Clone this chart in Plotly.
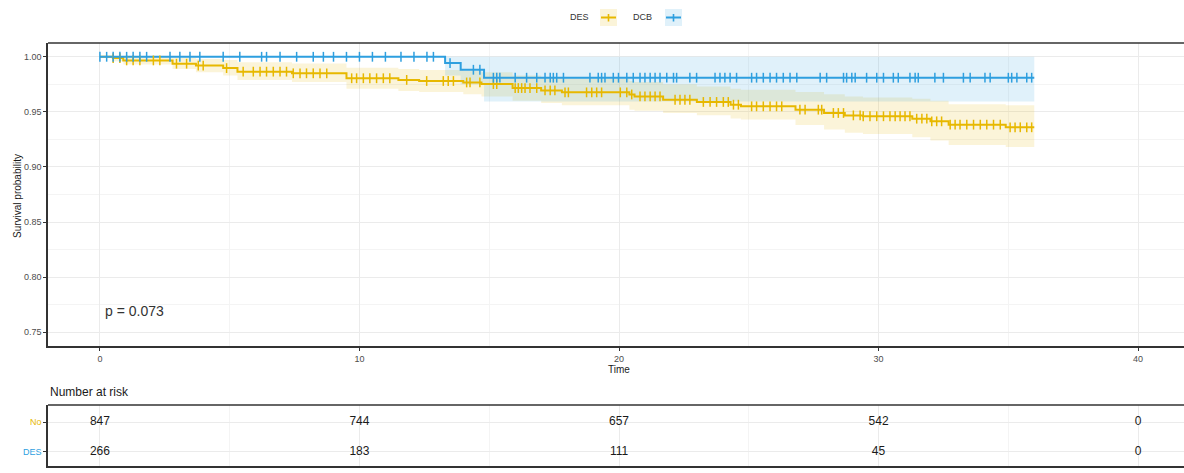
import numpy as np
import plotly.graph_objects as go

BLUE = "#2E9FDF"
YELLOW = "#E7B800"
FONT = "Liberation Sans, Arial, sans-serif"

# ---------------- data ----------------
des_time = [0, 0.5, 0.9, 2.8, 3.7, 4.75, 5.3, 7.4, 9.5, 11.5, 12.3, 14.0, 14.7, 15.9, 17.0,
            17.8, 20.4, 20.6, 21.7, 23.0, 24.3, 24.7, 26.8, 27.9, 28.7, 29.4, 31.3, 32.0, 32.7, 34.9]
des_surv = [1.0, 0.9988, 0.9967, 0.9937, 0.9920, 0.9897, 0.9865, 0.9850, 0.9805, 0.9790, 0.9780,
            0.9767, 0.9752, 0.9716, 0.9695, 0.9677, 0.9658, 0.9640, 0.9610, 0.9590, 0.9565, 0.9550,
            0.9520, 0.9490, 0.9468, 0.9460, 0.9438, 0.9414, 0.9384, 0.9360]
des_upper = [1.0, 1.0, 1.0, 0.999, 0.998, 0.997, 0.995, 0.994, 0.990, 0.989, 0.988, 0.987, 0.986,
             0.983, 0.981, 0.980, 0.978, 0.977, 0.975, 0.973, 0.971, 0.970, 0.968, 0.966, 0.964,
             0.963, 0.962, 0.960, 0.957, 0.956]
des_lower = [1.0, 0.996, 0.993, 0.989, 0.986, 0.983, 0.979, 0.977, 0.971, 0.969, 0.968, 0.966, 0.964,
             0.960, 0.958, 0.956, 0.952, 0.951, 0.949, 0.947, 0.944, 0.943, 0.938, 0.934, 0.931,
             0.930, 0.927, 0.924, 0.920, 0.918]
des_end = 36.0

dcb_time = [0, 13.3, 13.9, 14.8]
dcb_surv = [1.0, 0.9943, 0.9882, 0.9810]
dcb_upper = [1.0, 1.0, 1.0, 1.0]
dcb_lower = [1.0, 0.983, 0.975, 0.9595]
dcb_end = 36.0

des_censor = [0.51, 0.77, 1.03, 1.28, 1.54, 2.06, 2.31, 2.95, 3.34, 3.79, 3.98, 4.88, 5.52, 5.91,
              6.17, 6.42, 6.68, 6.94, 7.19, 7.45, 7.71, 7.96, 8.22, 8.48, 8.74, 9.7, 9.89, 10.15,
              10.4, 10.66, 10.92, 11.17, 11.82, 12.59, 13.23, 13.42, 13.62, 14.13, 14.26, 14.64,
              15.16, 15.29, 16.0, 16.12, 16.25, 16.38, 16.57, 16.83, 17.15, 17.35, 17.53, 17.92,
              18.05, 18.75, 18.95, 19.14, 19.33, 20.05, 20.3, 20.49, 20.81, 21.0, 21.2, 21.39,
              21.58, 22.16, 22.35, 22.54, 22.73, 23.25, 23.51, 23.76, 24.02, 24.21, 24.41, 24.6,
              25.11, 25.3, 25.56, 25.82, 26.07, 26.27, 26.97, 27.17, 27.68, 27.81, 28.26, 28.45,
              28.65, 29.03, 29.29, 29.41, 29.67, 29.93, 30.19, 30.44, 30.64, 30.83, 31.02, 31.21,
              31.47, 31.67, 31.86, 32.05, 32.24, 32.43, 32.76, 32.95, 33.14, 33.4, 33.66, 33.92,
              34.17, 34.43, 34.69, 35.07, 35.26, 35.46, 35.71, 35.9]
dcb_censor = [0.0, 0.26, 0.51, 0.77, 1.03, 1.28, 1.54, 1.8, 2.7, 3.08, 3.47, 3.85, 4.75, 5.39,
              6.23, 6.42, 6.94, 7.58, 8.22, 8.61, 9.0, 9.5, 10.0, 10.5, 11.0, 11.6, 12.1, 12.6,
              12.85, 13.49, 14.39, 14.64, 15.16, 15.29, 15.41, 16.0, 16.44, 16.83, 17.15, 17.35,
              17.47, 17.6, 17.86, 18.88, 19.2, 19.33, 19.46, 19.78, 19.98, 20.3, 20.55, 20.81,
              21.0, 21.2, 21.39, 21.58, 21.84, 22.1, 22.22, 22.73, 22.99, 23.7, 23.89, 24.08,
              24.28, 24.53, 25.11, 25.3, 25.56, 25.82, 26.07, 26.33, 26.59, 26.85, 27.75, 28.0,
              28.65, 28.77, 28.97, 29.1, 29.54, 29.93, 30.19, 30.57, 30.76, 31.21, 31.41, 31.53,
              32.17, 32.5, 33.27, 33.53, 34.1, 34.3, 35.0, 35.13, 35.33, 35.71, 35.9]

legend_names = ["DES", "DCB"]
p_text = "p = 0.073"

risk_times = [0, 10, 20, 30, 40]
risk_rows = ["No", "DES"]
risk_no = [847, 744, 657, 542, 0]
risk_des = [266, 183, 111, 45, 0]

x_ticks = [0, 10, 20, 30, 40]
y_ticks = [0.75, 0.80, 0.85, 0.90, 0.95, 1.00]


def step_lookup(times, surv, t):
    idx = np.searchsorted(np.asarray(times), np.asarray(t), side="right") - 1
    return np.asarray(surv)[idx]


def rgba(hex_color, a):
    h = hex_color.lstrip("#")
    r, g, b = int(h[0:2], 16), int(h[2:4], 16), int(h[4:6], 16)
    return f"rgba({r},{g},{b},{a})"


BAND_ALPHA = 0.15

fig = go.Figure()

groups = [
    (des_time, des_surv, des_upper, des_lower, des_end, des_censor, YELLOW),
    (dcb_time, dcb_surv, dcb_upper, dcb_lower, dcb_end, dcb_censor, BLUE),
]

# confidence bands
for tm, sv, up, lo, end, cens, col in groups:
    xs = list(tm) + [end]
    fig.add_trace(go.Scatter(x=xs, y=list(lo) + [lo[-1]], mode="lines", line=dict(width=0, shape="hv"),
                             hoverinfo="skip", showlegend=False))
    fig.add_trace(go.Scatter(x=xs, y=list(up) + [up[-1]], mode="lines", line=dict(width=0, shape="hv"),
                             fill="tonexty", fillcolor=rgba(col, BAND_ALPHA), hoverinfo="skip",
                             showlegend=False))

# curves
for tm, sv, up, lo, end, cens, col in groups:
    xs = list(tm) + [end]
    fig.add_trace(go.Scatter(x=xs, y=list(sv) + [sv[-1]], mode="lines",
                             line=dict(color=col, width=2, shape="hv"), showlegend=False))

# censor marks
for tm, sv, up, lo, end, cens, col in groups:
    fig.add_trace(go.Scatter(x=cens, y=step_lookup(tm, sv, cens), mode="markers",
                             marker=dict(symbol="line-ns", size=7, line=dict(color=col, width=1.5)),
                             showlegend=False))

# risk table numbers
for row_idx, vals in [(2, risk_no), (1, risk_des)]:
    fig.add_trace(go.Scatter(x=risk_times, y=[row_idx] * len(vals), mode="text",
                             text=[str(v) for v in vals],
                             textfont=dict(family=FONT, size=12, color="#1a1a1a"),
                             xaxis="x2", yaxis="y2", showlegend=False, hoverinfo="skip"))

# figure is a little wider than the window: the panels' right edge is cut off, as in the reference
W, H = 1190, 473
ML, MR, MT, MB = 48, 0, 43, 7
PW, PH = W - ML - MR, H - MT - MB


def pxx(x):
    return (x - ML) / PW


def pxy(y):
    return (H - MB - y) / PH


main_bottom = pxy(346)
table_top = pxy(405)

XRANGE = [-2.0, 42.0]
grid_major = "#EBEBEB"
grid_minor = "#F4F4F4"
axis_col = "#333333"
tick_font = dict(family=FONT, size=9, color="#4D4D4D")

fig.update_layout(
    width=W, height=H,
    margin=dict(l=ML, r=MR, t=MT, b=MB),
    paper_bgcolor="white", plot_bgcolor="white",
    font=dict(family=FONT, color="#333333"),
    showlegend=False,
    xaxis=dict(domain=[0, 1], range=XRANGE, tickvals=x_ticks, ticks="outside", ticklen=3,
               tickcolor=axis_col, tickfont=tick_font, showgrid=True, gridcolor=grid_major, gridwidth=1,
               minor=dict(dtick=5, tick0=0, showgrid=True, gridcolor=grid_minor, gridwidth=1, ticks=""),
               zeroline=False, showline=True, linecolor=axis_col, linewidth=1.5, anchor="y"),
    yaxis=dict(domain=[main_bottom, 1], range=[0.7375, 1.0125], tickvals=y_ticks, tickformat=".2f",
               ticks="outside", ticklen=3, tickcolor=axis_col, tickfont=tick_font,
               showgrid=True, gridcolor=grid_major, gridwidth=1,
               minor=dict(dtick=0.025, tick0=0.75, showgrid=True, gridcolor=grid_minor, gridwidth=1, ticks=""),
               zeroline=False, showline=True, linecolor=axis_col, linewidth=1.5, anchor="x"),
    xaxis2=dict(domain=[0, 1], range=XRANGE, tickvals=x_ticks, showticklabels=False, ticks="",
                showgrid=True, gridcolor=grid_major,
                minor=dict(dtick=5, tick0=0, showgrid=True, gridcolor=grid_minor, ticks=""),
                zeroline=False, showline=True, linecolor=axis_col, linewidth=1.5, anchor="y2"),
    yaxis2=dict(domain=[0, table_top], range=[0.51, 2.59], tickvals=[2, 1],
                ticktext=[f'<span style="color:{YELLOW}">{risk_rows[0]}</span>',
                          f'<span style="color:{BLUE}">{risk_rows[1]}</span>'],
                ticks="outside", ticklen=3, tickcolor=axis_col,
                tickfont=dict(family=FONT, size=9), showgrid=True, gridcolor=grid_major,
                zeroline=False, showline=True, linecolor=axis_col, linewidth=1.5, anchor="x2"),
)

shapes = [
    dict(type="line", xref="paper", yref="paper", x0=0, x1=1, y0=1, y1=1,
         line=dict(color=axis_col, width=1.5)),
    dict(type="line", xref="paper", yref="paper", x0=0, x1=1, y0=table_top, y1=table_top,
         line=dict(color=axis_col, width=1.5)),
]

annotations = [
    dict(text=p_text, x=0.1, y=0.769, xref="x", yref="y", xanchor="left", yanchor="middle",
         showarrow=False, font=dict(family=FONT, size=14, color="#333333")),
    dict(text="Time", x=20, y=pxy(369), xref="x", yref="paper", xanchor="center", yanchor="middle",
         showarrow=False, font=dict(family=FONT, size=10, color="#1a1a1a")),
    dict(text="Survival probability", x=pxx(17), y=pxy(196), xref="paper", yref="paper",
         xanchor="center", yanchor="middle", textangle=-90, showarrow=False,
         font=dict(family=FONT, size=10, color="#1a1a1a")),
    dict(text="Number at risk", x=0, y=pxy(392), xref="paper", yref="paper", xanchor="left",
         yanchor="middle", showarrow=False, font=dict(family=FONT, size=12, color="#1a1a1a")),
]

legend_items = [(legend_names[0], YELLOW, 579, 600), (legend_names[1], BLUE, 642, 665)]
for name, col, text_cx, key_x0 in legend_items:
    annotations.append(dict(text=name, x=pxx(text_cx), y=pxy(17.5), xref="paper", yref="paper",
                            xanchor="center", yanchor="middle", showarrow=False,
                            font=dict(family=FONT, size=9, color="#333333")))
    kx0, kx1 = key_x0, key_x0 + 17
    shapes.append(dict(type="rect", xref="paper", yref="paper", x0=pxx(kx0), x1=pxx(kx1),
                       y0=pxy(26), y1=pxy(9), line=dict(width=0), fillcolor=rgba(col, BAND_ALPHA)))
    shapes.append(dict(type="line", xref="paper", yref="paper", x0=pxx(kx0 + 1), x1=pxx(kx1 - 1),
                       y0=pxy(17.5), y1=pxy(17.5), line=dict(color=col, width=2)))
    cx = (kx0 + kx1) / 2
    shapes.append(dict(type="line", xref="paper", yref="paper", x0=pxx(cx), x1=pxx(cx),
                       y0=pxy(14), y1=pxy(21.5), line=dict(color=col, width=1.6)))

fig.update_layout(shapes=shapes, annotations=annotations)

fig.write_html("out.html",
               config={"displayModeBar": False},
               post_script="document.body.style.margin='0';document.body.style.padding='0';"
                           "document.body.style.overflow='hidden';")
